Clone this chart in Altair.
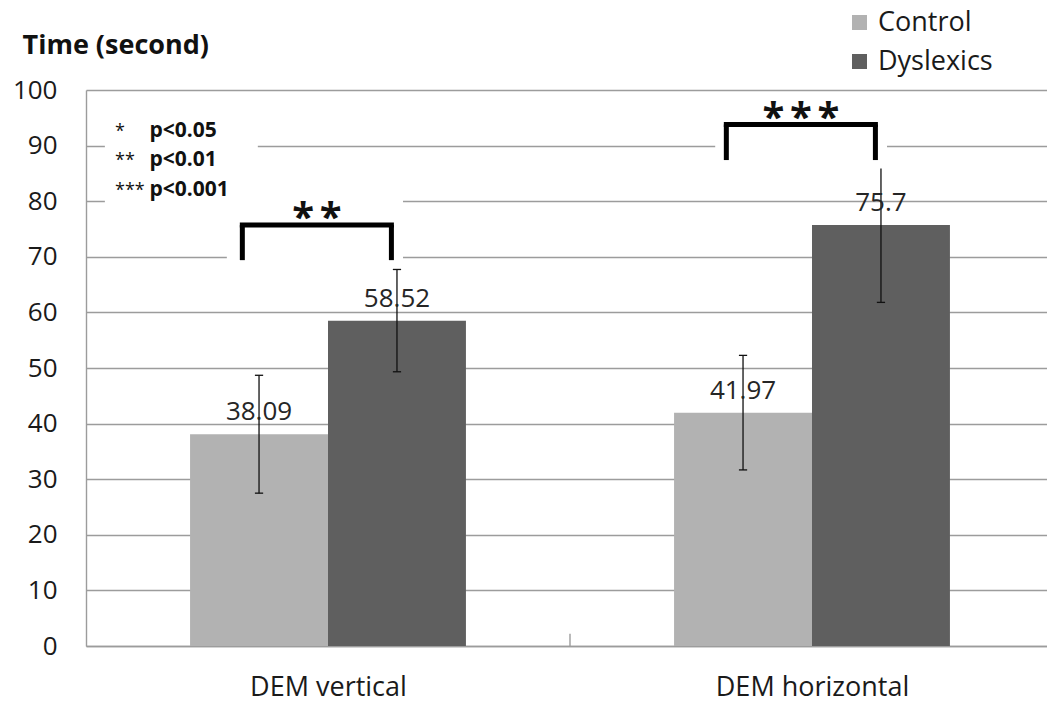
import json

import altair as alt
import pandas as pd

# ---- values -------------------------------------------------------------
categories = ["DEM vertical", "DEM horizontal"]
groups = ["Control", "Dyslexics"]
control_mean = [38.09, 41.97]
dyslexics_mean = [58.52, 75.7]
control_sd = [10.6, 10.3]
dyslexics_sd = [9.2, 13.9]

significance = ["**", "***"]
bracket_top = [75.7, 93.8]
bracket_foot = [69.4, 87.4]

note_stars = ["*", "**", "***"]
note_text = ["p<0.05", "p<0.01", "p<0.001"]

y_ticks = list(range(0, 101, 10))

# ---- layout (x measured in category bands, one band per category) -------
PLOT_W, PLOT_H = 961, 556
BAND_PX = 484
X_MAX = PLOT_W / BAND_PX
BAR_W = 0.285
CAP = 0.0085
FONT = "Open Sans"
COLORS = ["#b2b2b2", "#5f5f5f"]
GRID = "#9c9c9c"

rows = []
for i, cat in enumerate(categories):
    for g, (grp, means, sds) in enumerate(
        [("Control", control_mean, control_sd), ("Dyslexics", dyslexics_mean, dyslexics_sd)]
    ):
        x0 = i + 0.5 - BAR_W + g * BAR_W
        m, s = means[i], sds[i]
        rows.append(dict(category=cat, group=grp, mean=m, sd=s, x=x0, x2=x0 + BAR_W,
                         xc=x0 + BAR_W / 2, lo=m - s, hi=m + s, base=0, label=f"{m:g}"))
bars = pd.DataFrame(rows)

caps = pd.concat([
    bars.assign(y=bars["lo"]), bars.assign(y=bars["hi"])
]).assign(cx=lambda d: d["xc"] - CAP, cx2=lambda d: d["xc"] + CAP)

brackets = pd.DataFrame({
    "left": [i + 0.5 - 0.177 for i in range(len(categories))],
    "right": [i + 0.5 + 0.131 for i in range(len(categories))],
    "top": bracket_top,
    "foot": bracket_foot,
})
legs = pd.concat([
    brackets.assign(x=brackets["left"]), brackets.assign(x=brackets["right"])
])

star_rows = []
for i, sig in enumerate(significance):
    mid = (brackets.loc[i, "left"] + brackets.loc[i, "right"]) / 2
    n = len(sig)
    for k in range(n):
        star_rows.append(dict(x=mid + (k - (n - 1) / 2) * 0.057, y=bracket_top[i] + 2.3, s="*"))
stars = pd.DataFrame(star_rows)

notes = pd.DataFrame({
    "stars": note_stars,
    "text": note_text,
    "xs": [0.060] * 3,
    "xt": [0.131] * 3,
    "y": [91.6, 86.3, 81.0],
})

# white panels that sit behind the annotations and break the grid lines
panels = pd.DataFrame({
    "x": [0.039, 0.291, 1.300],
    "x2": [0.355, 0.655, 1.655],
    "y": [97.2, 82.0, 99.0],
    "y2": [78.4, 68.5, 85.9],
})

separators = pd.DataFrame({"x": list(range(1, len(categories))), "y": 0, "y2": 2.2})

# ---- scales and axes ------------------------------------------------------
x_scale = alt.Scale(domain=[0, X_MAX], nice=False, zero=False)
y_scale = alt.Scale(domain=[0, 100], nice=False)

label_expr = json.dumps(categories) + "[floor(datum.value)]"
x_axis = alt.Axis(
    values=[i + 0.5 for i in range(len(categories))], labelExpr=label_expr,
    title=None, grid=False, ticks=False, tickSize=0,
    domainColor=GRID, domainWidth=1.4,
    labelFont=FONT, labelFontSize=27, labelColor="#1a1a1a", labelLimit=0,
    labelBaseline="middle", labelPadding=41,
)
y_axis = alt.Axis(
    values=y_ticks, grid=True, gridColor=GRID, gridWidth=1.4,
    ticks=False, tickSize=0, domainColor=GRID, domainWidth=1.4,
    labelFont=FONT, labelFontSize=26, labelColor="#1a1a1a", labelPadding=29,
    title="Time (second)", titleAngle=0, titleAlign="left", titleBaseline="alphabetic",
    titleX=-64, titleY=-37, titleFont=FONT, titleFontSize=27, titleFontWeight="bold",
    titleColor="#111111",
)


def X(f):
    return alt.X(f, type="quantitative", scale=x_scale)


def Y(f):
    return alt.Y(f, type="quantitative", scale=y_scale)


bar_layer = alt.Chart(bars).mark_bar(stroke=None).encode(
    x=alt.X("x:Q", scale=x_scale, axis=x_axis),
    x2="x2",
    y=alt.Y("mean:Q", scale=y_scale, axis=y_axis),
    y2="base",
    color=alt.Color(
        "group:N",
        scale=alt.Scale(domain=groups, range=COLORS),
        legend=alt.Legend(
            title=None, orient="none", legendX=760, legendY=-81,
            symbolType="square", symbolSize=225, symbolStrokeWidth=0,
            labelFont=FONT, labelFontSize=27, labelColor="#1a1a1a",
            labelOffset=5, rowPadding=11, padding=0,
        ),
    ),
)

sep_layer = alt.Chart(separators).mark_rule(color=GRID, strokeWidth=1.4).encode(
    x=X("x"), y=Y("y"), y2="y2"
)

err_layer = alt.Chart(bars).mark_rule(color="#111111", strokeWidth=1.3).encode(
    x=X("xc"), y=Y("lo"), y2="hi"
)
cap_layer = alt.Chart(caps).mark_rule(color="#111111", strokeWidth=1.3).encode(
    x=X("cx"), x2="cx2", y=Y("y")
)

panel_layer = alt.Chart(panels).mark_rect(color="white").encode(
    x=X("x"), x2="x2", y=Y("y"), y2="y2"
)

value_layer = alt.Chart(bars).mark_text(
    font=FONT, fontSize=26, color="#262626", baseline="alphabetic", dy=-14
).encode(x=X("xc"), y=Y("mean"), text="label:N")

top_layer = alt.Chart(brackets).mark_rule(color="black", strokeWidth=5, strokeCap="square").encode(
    x=X("left"), x2="right", y=Y("top")
)
leg_layer = alt.Chart(legs).mark_rule(color="black", strokeWidth=5, strokeCap="butt").encode(
    x=X("x"), y=Y("foot"), y2="top"
)

star_layer = alt.Chart(stars).mark_text(
    font=FONT, fontSize=40, fontWeight="bold", color="#111111",
    baseline="alphabetic", dy=19,
).encode(x=X("x"), y=Y("y"), text="s:N")

note_star_layer = alt.Chart(notes).mark_text(
    font=FONT, fontSize=18, color="#111111", align="left", baseline="alphabetic"
).encode(x=X("xs"), y=Y("y"), text="stars:N")
note_text_layer = alt.Chart(notes).mark_text(
    font=FONT, fontSize=21, fontWeight="bold", color="#111111", align="left", baseline="alphabetic"
).encode(x=X("xt"), y=Y("y"), text="text:N")

chart = alt.layer(
    bar_layer, sep_layer, err_layer, cap_layer, panel_layer, value_layer,
    top_layer, leg_layer, star_layer, note_star_layer, note_text_layer,
).properties(
    width=PLOT_W, height=PLOT_H,
    autosize=alt.AutoSizeParams(type="none"),
    padding={"left": 86, "top": 90, "right": 0, "bottom": 60},
    background="white",
).configure_view(stroke=None)

chart.save("out.html", embed_options={"renderer": "svg", "actions": False})
